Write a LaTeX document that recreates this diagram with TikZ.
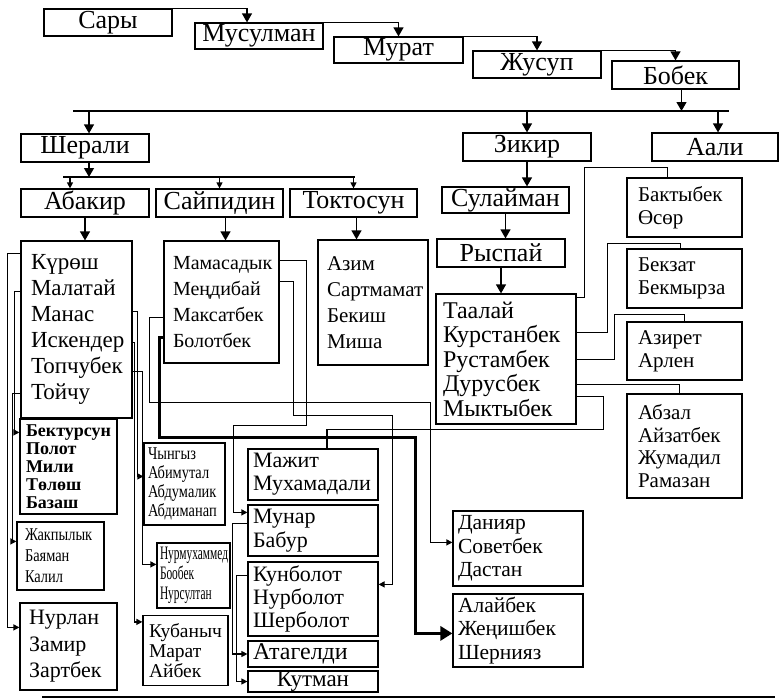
\documentclass[tikz,border=0pt]{standalone}
\usepackage{fontspec}
\setmainfont{Liberation Serif}
\newfontfamily\narrowfont[FakeStretch=0.8]{Liberation Serif}
\newfontfamily\slimfont[FakeStretch=0.6]{Liberation Serif}
\usetikzlibrary{calc}
\usetikzlibrary{arrows.meta}

\tikzset{
  gbox/.style={draw, inner sep=0pt, align=left},
  wh/.style 2 args={minimum width=#1pt, minimum height=#2pt, align=center},
  whl/.style n args={3}{minimum width=#1pt, minimum height=#2pt, text width=#3pt},
  hd/.style={gbox, font=\fontsize{26}{27}\selectfont},
  lg/.style={gbox, font=\fontsize{23}{26}\selectfont},
  md/.style={gbox, font=\fontsize{21.5}{23.5}\selectfont},
  sm/.style={gbox, font=\fontsize{21}{23}\selectfont},
  bd/.style={gbox, font=\bfseries\fontsize{18}{18}\selectfont},
  nr/.style={gbox, font=\narrowfont\fontsize{18}{21}\selectfont},
  arr/.style={-{Triangle[length=9pt,width=10pt]}},
  sarr/.style={-{Triangle[length=6pt,width=6pt]}},
  bigarr/.style={line width=3.5pt, -{Triangle[length=12pt,width=14pt]}}
}

\begin{document}
\begin{tikzpicture}[x=1pt, y=-1pt, line width=1.2pt]
  \useasboundingbox (0,0) rectangle (782,699);

  % Ancestors
  \node[hd, wh={128}{27}] (sary) at (108,22.5) {Сары};
  \node[hd, wh={128}{26}] (musulman) at (259,36) {Мусулман};
  \node[hd, wh={129}{26}] (murat) at (398.5,50) {Мурат};
  \node[hd, wh={128}{27}] (zhusup) at (537,64.5) {Жусуп};
  \node[hd, wh={127}{28}] (bobek) at (675.5,75) {Бобек};

  \draw[arr] (sary.north east) -| ([xshift=-12pt]musulman.north);
  \draw[arr] (musulman.north east) -| (murat.north);
  \draw[arr] (murat.north east) -| (zhusup.north);
  \draw[arr] (zhusup.north east) -| (bobek.north);

  % Sons of Bobek
  \coordinate (busA) at (73,111);
  \coordinate (busB) at (729,111);
  \node[hd, wh={128}{28}] (sherali) at (85,148) {Шерали};
  \node[hd, wh={128}{28}] (zikir) at (527,147) {Зикир};
  \node[hd, wh={126}{28}] (aali) at (715,147) {Аали};

  \draw (busA) -- (busB);
  \draw[arr] ([xshift=6pt]bobek.south) -- ([xshift=6pt]bobek.south |- busA);
  \draw[arr] ([xshift=4pt]sherali.north |- busA) -- ([xshift=4pt]sherali.north);
  \draw[arr] (zikir.north |- busA) -- (zikir.north);
  \draw[arr] ([xshift=3pt]aali.north |- busA) -- ([xshift=3pt]aali.north);

  % Sherali branch
  \coordinate (busC) at (63,177);
  \coordinate (busD) at (355,177);
  \node[hd, wh={128}{28}] (abakir) at (85,203) {Абакир};
  \node[hd, wh={127}{28}] (saypidin) at (219.5,203) {Сайпидин};
  \node[hd, wh={127}{28}] (toktosun) at (353.5,203) {Токтосун};

  \draw (busC) -- (busD);
  \draw[arr] ([xshift=4pt]sherali.south) -- ([xshift=4pt]sherali.south |- busC);
  \draw[sarr] ([xshift=-15pt]abakir.north |- busC) -- ([xshift=-15pt]abakir.north);
  \draw[sarr] (saypidin.north |- busC) -- (saypidin.north);
  \draw[sarr] (toktosun.north |- busC) -- (toktosun.north);

  \node[lg, whl={111}{177}{91}] (kurosh) at (76.5,329.5) {Күрөш\\Малатай\\Манас\\Искендер\\Топчубек\\Тойчу};
  \node[gbox, whl={115}{122}{97}, font=\fontsize{20}{26}\selectfont] (mamasadyk) at (221.5,302) {Мамасадык\\Меңдибай\\Максатбек\\Болотбек};
  \node[gbox, whl={110}{125}{92}, font=\fontsize{21}{26}\selectfont] (azim) at (373,302.5) {Азим\\Сартмамат\\Бекиш\\Миша};

  \draw[arr] (abakir.south) -- (abakir.south |- kurosh.north);
  \draw[arr] ([xshift=6pt]saypidin.south) -- ([xshift=6pt]saypidin.south |- mamasadyk.north);
  \draw[arr] ([xshift=3pt]toktosun.south) -- ([xshift=3pt]toktosun.south |- azim.north);

  % Zikir branch
  \node[hd, wh={127}{26}] (sulayman) at (505.5,200) {Сулайман};
  \node[hd, wh={128}{28}] (ryspay) at (501,253) {Рыспай};
  \node[gbox, whl={140}{130}{126}, font=\fontsize{24}{24.5}\selectfont] (taalay) at (506,359) {Таалай\\Курстанбек\\Рустамбек\\Дурусбек\\Мыктыбек};

  \draw[arr] (zikir.south) -- (zikir.south |- sulayman.north);
  \draw[arr] (sulayman.south) -- (sulayman.south |- ryspay.north);
  \draw[arr] (ryspay.south) -- (ryspay.south |- taalay.north);

  \node[sm, whl={115}{59}{93}] (baktybek) at (684.5,207.5) {Бактыбек\\Өсөр};
  \node[sm, whl={115}{59}{93}] (bekzat) at (684.5,278.5) {Бекзат\\Бекмырза};
  \node[sm, whl={115}{58}{93}] (aziret) at (684.5,351) {Азирет\\Арлен};
  \node[gbox, whl={115}{104}{93}, font=\fontsize{21}{22.5}\selectfont] (abzal) at (684.5,446) {Абзал\\Айзатбек\\Жумадил\\Рамазан};

  \draw ([yshift=-4pt]taalay.north east) -- ++(8,0) |- ([xshift=-17pt,yshift=10pt]baktybek.north) -- ([xshift=-17pt]baktybek.north);
  \draw ([yshift=-39pt]taalay.north east) -- ++(31,0) |- ([xshift=-4pt,yshift=5pt]bekzat.north) -- ([xshift=-4pt]bekzat.north);
  \draw ([yshift=-66pt]taalay.north east) -- ++(38,0) |- ([yshift=7pt]aziret.north) -- (aziret.north);
  \draw ([yshift=-91pt]taalay.north east) -| ([xshift=-5pt]abzal.north);

  % Grandsons of Abakir
  \node[bd, whl={97}{95}{85}] (bektursun) at (68.5,466.5) {Бектурсун\\Полот\\Мили\\Төлөш\\Базаш};
  \node[nr, whl={87}{68}{71}] (zhakpylyk) at (60.5,556) {Жакпылык\\Баяман\\Калил};
  \node[gbox, whl={97}{87}{79}, font=\fontsize{22}{26.5}\selectfont] (nurlan) at (68.5,646.5) {Нурлан\\Замир\\Зартбек};
  \node[gbox, whl={81}{82}{73}, font=\narrowfont\fontsize{18}{19}\selectfont] (chyngyz) at (184.5,484) {Чынгыз\\Абимутал\\Абдумалик\\Абдиманап};
  \node[gbox, whl={73}{65}{67}, font=\slimfont\fontsize{19}{20}\selectfont] (nurmuhammed) at (193.5,575.5) {Нурмухаммед\\Бообек\\Нурсултан};
  \node[gbox, whl={85}{70}{73}, font=\fontsize{19.5}{20}\selectfont] (kubanych) at (185.5,650.5) {Кубаныч\\Марат\\Айбек};

  \draw[sarr] ([yshift=-13pt]kurosh.north west) -- ++(-13,0) |- ([yshift=-25pt]nurlan.north west);
  \draw[sarr] ([yshift=-51pt]kurosh.north west) -- ++(-6,0) |- ([yshift=-14pt]bektursun.north west);
  \draw[sarr] ([yshift=-153pt]kurosh.north west) -- ++(-8,0) |- ([yshift=-20pt]zhakpylyk.north west);
  \draw[sarr] ([yshift=-71pt]kurosh.north east) -- ++(5,0) |- ([yshift=-34pt]chyngyz.north west);
  \draw[sarr] ([yshift=-131pt]kurosh.north east) -- ++(10,0) |- ([yshift=-22pt]nurmuhammed.north west);
  \draw[sarr] ([yshift=-102pt]kurosh.north east) -- ++(2,0) |- ([yshift=-7pt]kubanych.north west);

  % Grandsons of Saypidin
  \node[gbox, whl={130}{51}{120}, font=\fontsize{22}{23}\selectfont] (mazhit) at (313,474.5) {Мажит\\Мухамадали};
  \node[gbox, whl={130}{51}{120}, font=\fontsize{22}{24}\selectfont] (munar) at (313,530.5) {Мунар\\Бабур};
  \node[gbox, whl={130}{74}{120}, font=\fontsize{22}{23}\selectfont] (kunbolot) at (313,599) {Кунболот\\Нурболот\\Шерболот};
  \node[gbox, whl={130}{26}{120}, font=\fontsize{24}{26}\selectfont] (atageldi) at (313,654) {Атагелди};
  \node[gbox, wh={130}{21}, font=\fontsize{23}{24}\selectfont] (kutman) at (313,681.5) {Кутман};
  \node[md, whl={130}{75}{120}] (daniyar) at (518,548.5) {Данияр\\Советбек\\Дастан};
  \node[md, whl={130}{73}{120}] (alaybek) at (518,630.5) {Алайбек\\Жеңишбек\\Шернияз};

  \draw[sarr] ([yshift=-20pt]mamasadyk.north east) -- ++(27,0) -- ++(0,165) -- ++(-73,0) |- ([yshift=-8pt]munar.north west);
  \draw[sarr] ([yshift=-41pt]mamasadyk.north east) -- ++(14,0) -- ++(0,134) -- ++(99,0) |- ([yshift=-23pt]kunbolot.north east);
  \draw[sarr] ([yshift=-77pt]mamasadyk.north west) -- ++(-14,0) -- ++(0,85) -- ++(281,0) |- ([yshift=-32pt]daniyar.north west);
  \draw[bigarr] ([yshift=-97pt]mamasadyk.north west) -- ++(-4,0) -- ++(0,100) -- ++(256,0) |- ([yshift=-40pt]alaybek.north west);
  \draw ([yshift=-103pt]taalay.north east) -- ++(27,0) -- ++(0,33) -| ([xshift=14pt]mazhit.north);
  \draw[sarr] ([yshift=-19pt]munar.north west) -- ++(-15,0) |- (atageldi.west);
  \draw[sarr] ([yshift=-14pt]kunbolot.north west) -- ++(-11,0) |- (kutman.west);

  % Base line
  \coordinate (baseA) at (42,697);
  \coordinate (baseB) at (775,697);
  \draw (baseA) -- (baseB);
\end{tikzpicture}
\end{document}
